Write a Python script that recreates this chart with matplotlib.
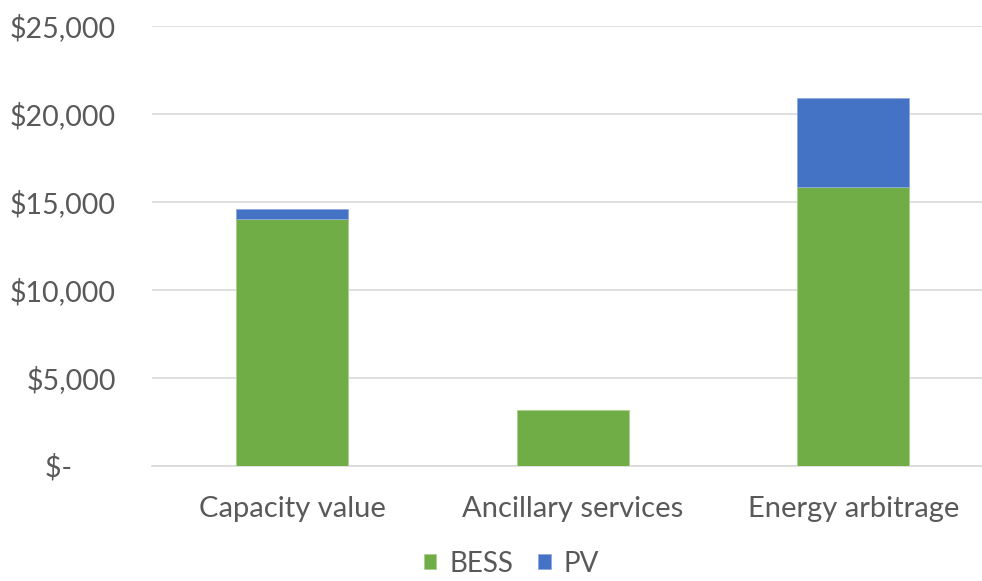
import matplotlib
matplotlib.use("Agg")
from matplotlib import pyplot as plt
from matplotlib.ticker import FuncFormatter

categories = ["Capacity value", "Ancillary services", "Energy arbitrage"]
bess = [14000, 3150, 15840]
pv = [570, 0, 5050]

green = "#70AD47"
blue = "#4472C4"
grey = "#595959"

plt.rcParams['font.family'] = ['Lato', 'DejaVu Sans']

fig = plt.figure(figsize=(9.82, 5.81), dpi=100)
ax = fig.add_axes([152/982, 0.1985, 1 - 152/982, 0.9552 - 0.1985])

x = range(len(categories))
ax.bar(x, bess, width=0.4, color=green, edgecolor="#a9d08e", linewidth=0.6, label="BESS", zorder=3)
ax.bar(x, pv, width=0.4, bottom=bess, color=blue, edgecolor="#8faadc",
       linewidth=[0.6 if v else 0 for v in pv], label="PV", zorder=3)

ax.set_ylim(0, 25000)
ax.set_yticks(range(0, 25001, 5000))
ax.set_xlim(-0.5, 2.5 - 11.5/280.5)
ax.set_xticks(list(x))
ax.set_xticklabels(categories)

def money(v, pos):
    if v == 0:
        return "$-      "
    return "${:,.0f}".format(v)
ax.yaxis.set_major_formatter(FuncFormatter(money))

ax.grid(axis="y", color="#d9d9d9", linewidth=1.2, zorder=0)
for s in ["top", "right", "left"]:
    ax.spines[s].set_visible(False)
ax.spines["bottom"].set_color("#d9d9d9")
ax.spines["bottom"].set_linewidth(1.2)
ax.tick_params(axis="both", length=0, colors=grey)
ax.tick_params(axis="y", pad=26, labelsize=20.5)
ax.tick_params(axis="x", pad=22, labelsize=21)

leg = fig.legend(loc="center", bbox_to_anchor=(0.521, 0.03), ncol=2, frameon=False,
                 fontsize=20, handlelength=0.45, handleheight=0.45, handletextpad=0.47,
                 columnspacing=0.9, labelcolor=grey, borderpad=0.2)

fig.savefig("out.png", dpi=100)
